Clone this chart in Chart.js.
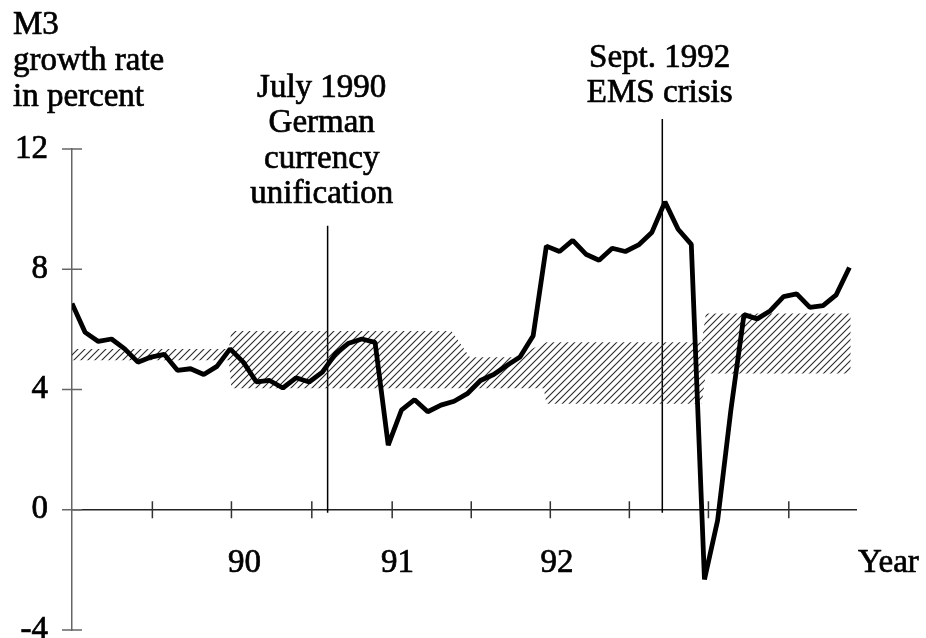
<!DOCTYPE html>
<html>
<head>
<meta charset="utf-8">
<title>M3 growth rate</title>
<script src="https://cdn.jsdelivr.net/npm/chart.js@4.4.1/dist/chart.umd.min.js"></script>
<style>
  html, body { margin: 0; padding: 0; background: #fff; }
  #wrap { width: 926px; height: 638px; }
</style>
</head>
<body>
<div id="wrap"><canvas id="chart"></canvas></div>
<script>
// M3 growth in percent, one value per month starting Jan 1989
const m3Growth = [
  6.86, 5.90, 5.60, 5.68, 5.35, 4.91, 5.08, 5.17, 4.64, 4.69, 4.50, 4.77,
  5.35, 4.91, 4.25, 4.30, 4.05, 4.39, 4.25, 4.58, 5.19, 5.54, 5.68, 5.57,
  2.15, 3.31, 3.66, 3.26, 3.48, 3.61, 3.86, 4.30, 4.50, 4.80, 5.08, 5.79,
  8.77, 8.59, 8.96, 8.50, 8.30, 8.70, 8.59, 8.81, 9.22, 10.24, 9.33, 8.83,
  -2.32, -0.35, 3.30, 6.49, 6.35, 6.62, 7.09, 7.18, 6.73, 6.79, 7.15, 8.06
];

// Bundesbank target corridor (x in months from Jan 1989)
const corridorX     = [0,    11.9, 12.1, 28.8, 30.2, 33.4, 35.8, 36.0, 47.8, 48.1, 59.1];
const corridorUpper = [5.35, 5.35, 5.95, 5.95, 5.07, 5.07, 5.52, 5.57, 5.57, 6.53, 6.53];
const corridorLower = [4.97, 4.97, 4.04, 4.04, 4.04, 4.04, 4.04, 3.53, 3.53, 4.53, 4.53];

const xTickMonths = [6.1, 12.1, 18.2, 24.3, 30.3, 36.3, 42.3, 48.3, 54.4];
const yearLabels = ['90', '91', '92'];
const yearLabelMonths = [13.1, 24.7, 36.8];
const yTicks = [-4, 0, 4, 8, 12];

const events = [
  { month: 19.4, from: -0.1, to: 9.45, textMonth: 18.95, top: 13.73,
    lines: ['July 1990', 'German', 'currency', 'unification'] },
  { month: 44.8, from: -0.1, to: 13.0, textMonth: 44.6, top: 14.73,
    lines: ['Sept. 1992', 'EMS crisis'] }
];

const FONT = '33px "Liberation Serif", "Times New Roman", serif';

function hatchPattern() {
  const s = 7;
  const c = document.createElement('canvas');
  c.width = s; c.height = s;
  const g = c.getContext('2d');
  g.strokeStyle = '#2a2a2a';
  g.lineWidth = 1.1;
  g.beginPath();
  g.moveTo(-1, s + 1); g.lineTo(s + 1, -1);
  g.moveTo(-1, 1); g.lineTo(1, -1);
  g.moveTo(s - 1, s + 1); g.lineTo(s + 1, s - 1);
  g.stroke();
  return g.createPattern(c, 'repeat');
}

const decor = {
  id: 'decor',
  beforeDatasetsDraw(chart) {
    const { ctx, scales: { x, y } } = chart;
    const x0 = x.getPixelForValue(0);
    const y0 = y.getPixelForValue(0);
    ctx.save();
    ctx.lineWidth = 1.5;
    ctx.strokeStyle = '#666';
    ctx.beginPath();
    yTicks.forEach(v => {
      const py = y.getPixelForValue(v);
      ctx.moveTo(x0 - 10, py); ctx.lineTo(x0 + 10, py);
    });
    ctx.stroke();
    ctx.strokeStyle = '#333';
    ctx.beginPath();
    xTickMonths.forEach(m => {
      const px = x.getPixelForValue(m);
      ctx.moveTo(px, y0 - 8.5); ctx.lineTo(px, y0 + 8.5);
    });
    ctx.stroke();
    ctx.strokeStyle = '#000';
    ctx.beginPath();
    events.forEach(e => {
      const px = x.getPixelForValue(e.month);
      ctx.moveTo(px, y.getPixelForValue(e.to));
      ctx.lineTo(px, y.getPixelForValue(e.from));
    });
    ctx.stroke();
    ctx.restore();
  },
  afterDraw(chart) {
    const { ctx, scales: { x, y } } = chart;
    ctx.save();
    ctx.font = FONT;
    ctx.fillStyle = '#000';
    ctx.strokeStyle = '#000';
    ctx.lineWidth = 0.7;
    ctx.textBaseline = 'alphabetic';
    const put = (t, px, py) => { ctx.fillText(t, px, py); ctx.strokeText(t, px, py); };
    ctx.textAlign = 'center';
    events.forEach(e => {
      const px = x.getPixelForValue(e.textMonth);
      const top = y.getPixelForValue(e.top);
      e.lines.forEach((t, i) => put(t, px, top + i * 35.5));
    });
    ctx.textAlign = 'left';
    ['M3', 'growth rate', 'in percent'].forEach((t, i) => put(t, 13, 34 + i * 36));
    put('Year', x.right + 2, y.getPixelForValue(0) + 62);
    ctx.restore();
  }
};

const pts = (xs, ys) => ys.map((v, i) => ({ x: xs[i], y: v }));

new Chart(document.getElementById('chart'), {
  type: 'line',
  data: {
    datasets: [
      {
        label: 'M3',
        data: m3Growth.map((v, i) => ({ x: i, y: v })),
        borderColor: '#000',
        borderWidth: 4.8,
        borderJoinStyle: 'bevel',
        pointRadius: 0,
        tension: 0,
        fill: false
      },
      {
        label: 'corridor low',
        data: pts(corridorX, corridorLower),
        borderWidth: 0,
        pointRadius: 0,
        fill: false
      },
      {
        label: 'corridor high',
        data: pts(corridorX, corridorUpper),
        borderWidth: 0,
        pointRadius: 0,
        backgroundColor: hatchPattern(),
        fill: '-1'
      }
    ]
  },
  options: {
    responsive: true,
    maintainAspectRatio: false,
    animation: false,
    layout: { padding: { left: 0, right: 70, top: 149, bottom: 8 } },
    plugins: { legend: { display: false }, tooltip: { enabled: false } },
    scales: {
      x: {
        type: 'linear',
        position: { y: 0 },
        min: 0,
        max: 59.5,
        grid: { display: false, drawTicks: false },
        border: { display: true, color: '#222', width: 1.5 },
        afterBuildTicks: s => { s.ticks = yearLabelMonths.map(v => ({ value: v })); },
        ticks: {
          autoSkip: false,
          maxRotation: 0,
          padding: 34,
          color: '#000',
          textStrokeColor: '#000',
          textStrokeWidth: 0.7,
          font: { family: '"Liberation Serif", serif', size: 33 },
          callback: (v, i) => yearLabels[i]
        }
      },
      y: {
        type: 'linear',
        min: -4,
        max: 12,
        afterFit: s => { s.width = 72; s.paddingTop = 0; s.paddingBottom = 0; },
        grid: { display: false, drawTicks: false },
        border: { display: true, color: '#666', width: 1.5 },
        ticks: {
          stepSize: 4,
          padding: 24,
          color: '#000',
          textStrokeColor: '#000',
          textStrokeWidth: 0.7,
          font: { family: '"Liberation Serif", serif', size: 33 }
        }
      }
    }
  },
  plugins: [decor]
});
</script>
</body>
</html>
